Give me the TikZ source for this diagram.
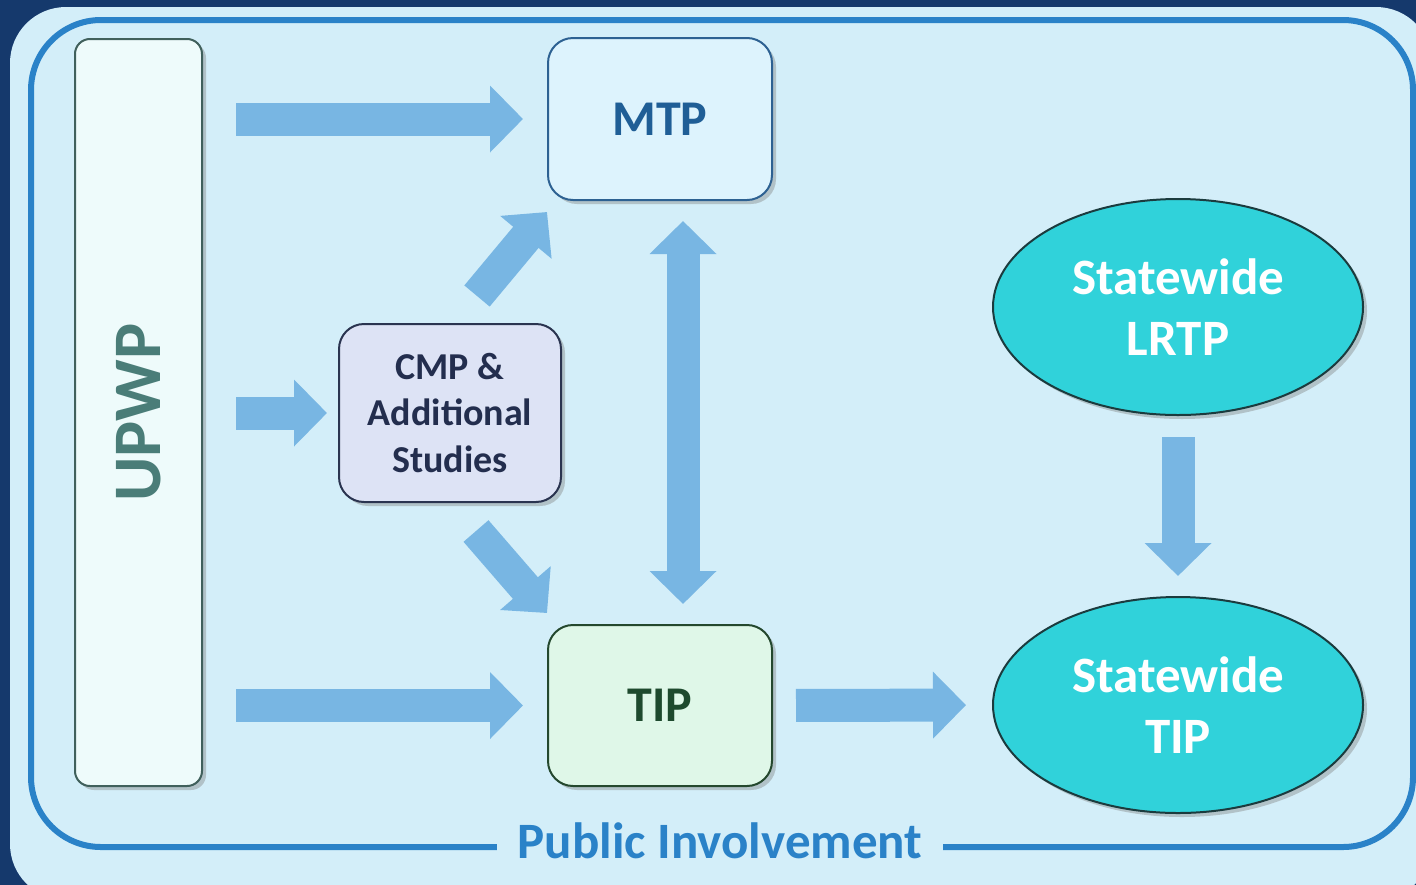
\documentclass[tikz,border=0pt]{standalone}
\usepackage{fontspec}
\setmainfont{Carlito}
\usetikzlibrary{arrows.meta}
\usetikzlibrary{shapes.geometric}
\usetikzlibrary{shadows}

\definecolor{deepblue}{HTML}{15396C}
\definecolor{tealtop}{HTML}{2B8A9E}
\definecolor{panel}{HTML}{D3EEF9}
\definecolor{rimblue}{HTML}{2A82C8}
\definecolor{flowblue}{HTML}{78B6E3}
\definecolor{upwpfill}{HTML}{EEFBFB}
\definecolor{upwpline}{HTML}{40605C}
\definecolor{upwptext}{HTML}{4A7D78}
\definecolor{mtpfill}{HTML}{DDF3FD}
\definecolor{mtpline}{HTML}{2D6192}
\definecolor{mtptext}{HTML}{1F5E96}
\definecolor{cmpfill}{HTML}{DDE3F5}
\definecolor{cmpline}{HTML}{2A3450}
\definecolor{cmptext}{HTML}{232E4E}
\definecolor{tipfill}{HTML}{DFF7E8}
\definecolor{tipline}{HTML}{24482E}
\definecolor{tiptext}{HTML}{1E4A2E}
\definecolor{statefill}{HTML}{30D2DA}
\definecolor{stateline}{HTML}{1B3B3E}

\tikzset{
  shade box/.style={drop shadow={shadow xshift=2pt, shadow yshift=-2pt, opacity=.4}},
  planbox/.style={shade box, draw, line width=1pt, rounded corners=12.5pt, align=center, inner sep=0pt},
  stateoval/.style={shade box, ellipse, draw=stateline, line width=1pt, fill=statefill, text=white,
    minimum width=185pt, minimum height=108pt, inner sep=0pt, align=center,
    font=\bfseries\fontsize{25.5}{30.5}\selectfont},
  flow/.style={draw=flowblue, line width=16.5pt, -{Triangle[width=32.5pt, length=16.5pt]}},
  twoway/.style={draw=flowblue, line width=16.5pt, {Triangle[width=32.5pt, length=16.5pt]}-{Triangle[width=32.5pt, length=16.5pt]}},
}

\begin{document}
\begin{tikzpicture}[x=.5pt, y=-.5pt]
\useasboundingbox (0,0) rectangle (1416,884);
\shade[left color=deepblue, middle color=tealtop, right color=deepblue] (0,0) rectangle (1416,884);
\fill[panel, rounded corners=28pt] (10,7) rectangle (1432,900);
\draw[rimblue, line width=3pt, rounded corners=35pt] (31,20) rectangle (1413,847);
\node[fill=panel, text=rimblue, inner xsep=10.5pt, inner ysep=2pt, font=\bfseries\fontsize{25.5}{30}\selectfont] (public) at (720,841) {Public Involvement};

\node[planbox, draw=upwpline, fill=upwpfill, text=upwptext, rounded corners=7.5pt, minimum width=63.5pt, minimum height=373.5pt,
  font=\bfseries\fontsize{34}{40}\selectfont] (upwp) at (138.5,412.5) {\rotatebox{90}{UPWP}};
\node[planbox, draw=mtpline, fill=mtpfill, text=mtptext, minimum width=112pt, minimum height=81pt,
  font=\bfseries\fontsize{25}{30}\selectfont] (mtp) at (660,119) {MTP};
\node[planbox, draw=cmpline, fill=cmpfill, text=cmptext, minimum width=111pt, minimum height=89pt,
  font=\bfseries\fontsize{19}{23.3}\selectfont] (cmp) at (450,413) {CMP \&\\Additional\\Studies};
\node[planbox, draw=tipline, fill=tipfill, text=tiptext, minimum width=112pt, minimum height=80.5pt,
  font=\bfseries\fontsize{25}{30}\selectfont] (tip) at (660,705.5) {TIP};
\node[stateoval] (lrtp) at (1178,307) {Statewide\\LRTP};
\node[stateoval] (stip) at (1178,705) {Statewide\\TIP};

\foreach \n/\gap in {mtp/12pt, cmp/5.5pt, tip/12pt} {
  \draw[flow, shorten <=16.5pt, shorten >=\gap] (upwp.east |- \n.west) -- (\n.west);
}
\draw[flow] ([xshift=13.5pt, yshift=13.5pt]cmp.north) -- ([yshift=-5.5pt]mtp.south west);
\draw[flow] ([xshift=13pt, yshift=-14pt]cmp.south) -- ([yshift=5.5pt]tip.north west);
\draw[twoway, shorten <=10pt, shorten >=10pt] ([xshift=11.5pt]mtp.south) -- ([xshift=11.5pt]tip.north);
\draw[flow, shorten <=11.5pt, shorten >=13pt] (tip.east) -- (stip.west);
\draw[flow, shorten <=10.5pt, shorten >=10pt] (lrtp.south) -- (stip.north);
\end{tikzpicture}
\end{document}
